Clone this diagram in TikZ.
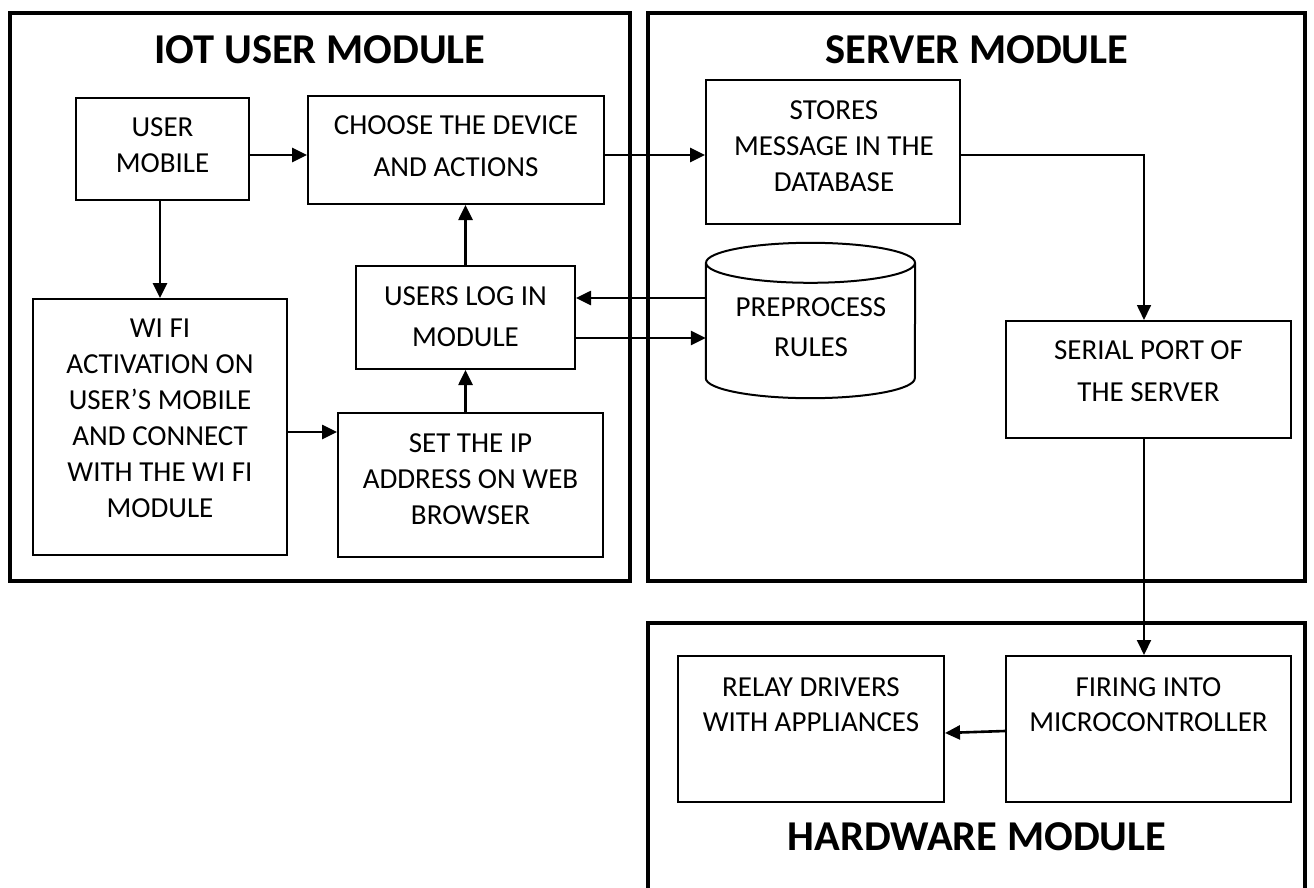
\documentclass[tikz,border=0pt]{standalone}
\usepackage{fontspec}
\setmainfont{Carlito}
\usetikzlibrary{arrows.meta}

\begin{document}
\begin{tikzpicture}[x=1pt, y=-1pt,
  frame/.style={draw, line width=4pt, inner sep=0pt},
  box/.style={draw, line width=2pt, inner sep=0pt},
  txt/.style={align=center, inner sep=0pt, font=\fontsize{29}{#1}\selectfont},
  txt/.default=36,
  title/.style={inner sep=0pt, font=\bfseries\fontsize{42.5}{50}\selectfont},
  arr/.style={-{Triangle[length=15pt,width=14pt]}, line width=2.6pt},
  thinarr/.style={-{Triangle[length=15pt,width=14pt]}, line width=1.7pt}]

\useasboundingbox (0,0) rectangle (1314,888);
\fill[white] (0,0) rectangle (1314,888);

% module frames
\node[frame, minimum width=620pt, minimum height=568pt] (iot) at (320,297) {};
\node[frame, minimum width=657pt, minimum height=568pt] (srv) at (976.5,297) {};
\node[frame, minimum width=657pt, minimum height=287pt] (hw)  at (976.5,766.5) {};

\node[title] (iott) at (320,50)  {IOT USER MODULE};
\node[title] (srvt) at (977,50)  {SERVER MODULE};
\node[title] (hwt)  at (977,837) {HARDWARE MODULE};

% IoT user module blocks
\node[box, minimum width=173pt, minimum height=102pt] (um)     at (162.5,149) {};
\node[box, minimum width=296pt, minimum height=108pt] (choose) at (456,150) {};
\node[box, minimum width=219pt, minimum height=103pt] (login)  at (465.5,317.5) {};
\node[box, minimum width=254pt, minimum height=256pt] (wifi)   at (160,427) {};
\node[box, minimum width=265pt, minimum height=144pt] (setip)  at (470.5,485) {};

\node[txt]     (umt)     at (162.5,145) {USER\\MOBILE};
\node[txt=42]  (chooset) at (456,146)   {CHOOSE THE DEVICE\\AND ACTIONS};
\node[txt=41]  (logint)  at (465.5,316.5) {USERS LOG IN\\MODULE};
\node[txt]     (wifit)   at (160,418)   {WI FI\\ACTIVATION ON\\USER’S MOBILE\\AND CONNECT\\WITH THE WI FI\\MODULE};
\node[txt]     (setipt)  at (470.5,479) {SET THE IP\\ADDRESS ON WEB\\BROWSER};

% server module blocks
\node[box, minimum width=254pt, minimum height=144pt] (stores) at (833,152) {};
\node[minimum width=209pt, minimum height=155pt, inner sep=0pt] (db) at (810.5,320.5) {};
\node[box, minimum width=285pt, minimum height=117pt] (serial) at (1148.5,379.5) {};

\draw[line width=2pt]
  ([yshift=-20pt]db.north west) -- ([yshift=20pt]db.south west)
  arc[start angle=180, end angle=360, x radius=104.5pt, y radius=20pt]
  -- ([yshift=-20pt]db.north east);
\draw[line width=2pt] ([yshift=-20pt]db.north) ellipse[x radius=104.5pt, y radius=20pt];

\node[txt]     (storest) at (834,146)    {STORES\\MESSAGE IN THE\\DATABASE};
\node[txt=40]  (dbt)     at (811,327)    {PREPROCESS\\RULES};
\node[txt=42]  (serialt) at (1148.5,371) {SERIAL PORT OF\\THE SERVER};

% hardware module blocks
\node[box, minimum width=266pt, minimum height=146pt] (relay)  at (811,729) {};
\node[box, minimum width=285pt, minimum height=146pt] (firing) at (1148.5,729) {};

\node[txt=35] (relayt)  at (811,704.5)    {RELAY DRIVERS\\WITH APPLIANCES};
\node[txt=35] (firingt) at (1148.5,704.5) {FIRING INTO\\MICROCONTROLLER};

% connectors
\draw[arr] ([yshift=-6pt]um.east) -- ([yshift=-6pt]um.east -| choose.west);
\draw[arr] (wifi.north |- um.south) -- (wifi.north);
\draw[arr] (login.north) -- (login.north |- choose.south);
\draw[arr] (login.south |- setip.north) -- (login.south);
\draw[arr] ([yshift=-5pt]wifi.east) -- ([yshift=-5pt]wifi.east -| setip.west);
\draw[arr] ([yshift=-5pt]choose.east) -- ([yshift=-5pt]choose.east -| stores.west);
\draw[arr] ([yshift=19.5pt]login.east -| db.west) -- ([yshift=19.5pt]login.east);
\draw[arr] ([yshift=-20.5pt]login.east) -- ([yshift=-20.5pt]login.east -| db.west);
\draw[thinarr] ([yshift=-3pt]stores.east) -| ([xshift=-4.5pt]serial.north);
\draw[arr, line width=2pt] ([xshift=-4.5pt]serial.south) -- ([xshift=-4.5pt]firing.north);
\draw[arr] ([yshift=-2pt]firing.west) -- ([yshift=-4pt]relay.east);
\end{tikzpicture}
\end{document}
